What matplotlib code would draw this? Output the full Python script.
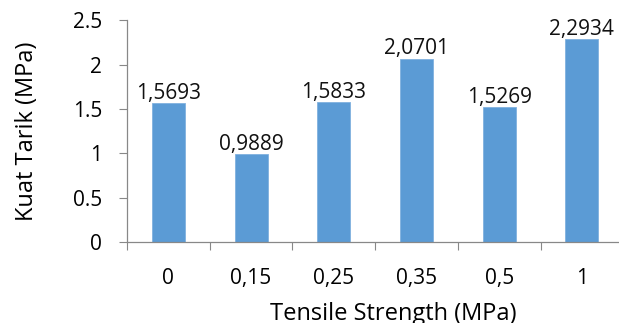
import numpy as np
import matplotlib.pyplot as plt
from matplotlib.ticker import FixedLocator

plt.rcParams['font.family'] = ['Open Sans', 'DejaVu Sans']

categories = ['0', '0,15', '0,25', '0,35', '0,5', '1']
kuat_tarik = [1.5693, 0.9889, 1.5833, 2.0701, 1.5269, 2.2934]
y_ticks = [0, 0.5, 1, 1.5, 2, 2.5]
y_tick_labels = ['0', '0.5', '1', '1.5', '2', '2.5']

bar_color = '#5B9BD5'
axis_color = '#888888'

fig = plt.figure(figsize=(6.19, 3.23), dpi=100)
# plot area runs off the right edge, as in the original export
ax = fig.add_axes([127 / 619, 81 / 323, 492 / 619, 221.5 / 323])

x = np.arange(len(categories))
ax.bar(x, kuat_tarik, width=0.4, color=bar_color, edgecolor='#80b1df',
       linewidth=0.6, zorder=2)

# value labels with comma decimals
for xi, v in zip(x, kuat_tarik):
    ax.annotate(f'{v:.4f}'.replace('.', ','), (xi, v), xytext=(0, 3),
                textcoords='offset points', ha='center', va='baseline',
                fontsize=15, color='#111111')

ax.set_xlim(-0.5, -0.5 + 492 / 82.7)
ax.set_ylim(0, 2.5)
ax.set_yticks(y_ticks)
ax.set_yticklabels(y_tick_labels)

ax.set_xticks(x)
ax.set_xticklabels(categories)
ax.xaxis.set_minor_locator(FixedLocator(np.arange(len(categories) + 1) - 0.5))
ax.tick_params(axis='x', which='major', length=0, pad=19, labelsize=15)
ax.tick_params(axis='x', which='minor', length=6, width=0.8, color=axis_color)
ax.tick_params(axis='y', length=6, width=0.8, color=axis_color, pad=12, labelsize=15)

for side in ['top', 'right']:
    ax.spines[side].set_visible(False)
for side in ['left', 'bottom']:
    ax.spines[side].set_color(axis_color)
    ax.spines[side].set_linewidth(0.9)
ax.spines['bottom'].set_zorder(3)

ax.set_ylabel('Kuat Tarik (MPa)', fontsize=17, va='center')
ax.yaxis.set_label_coords(-100 / 492, 0.5)
ax.set_xlabel('Tensile Strength (MPa)', fontsize=17, va='center')
ax.xaxis.set_label_coords(266 / 492, -72 / 221.5)

fig.savefig('out.png', dpi=100)
